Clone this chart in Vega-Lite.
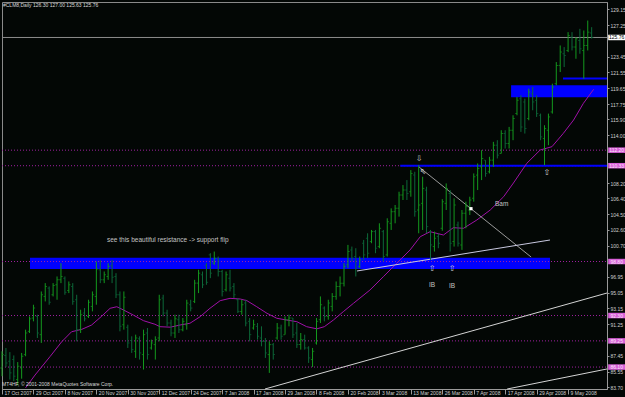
{
"$schema":"https://vega.github.io/schema/vega-lite/v6.json",
"width":605,"height":387,
"autosize":{"type":"none"},
"padding":{"left":2,"top":2,"right":18,"bottom":8},
"background":"#030705",
"config":{"view":{"stroke":"#8a8a8a","strokeWidth":1,"fill":"#030705"},"font":"Liberation Sans"},
"datasets":{
"bars":[
{"i":0,"o":86.0,"h":88.0,"l":85.0,"c":87.6},
{"i":1,"o":87.5,"h":88.4,"l":86.1,"c":86.6},
{"i":2,"o":86.8,"h":87.9,"l":84.6,"c":85.4},
{"i":3,"o":87.0,"h":87.5,"l":84.4,"c":85.0},
{"i":4,"o":84.6,"h":86.7,"l":83.9,"c":86.2},
{"i":5,"o":86.0,"h":87.8,"l":84.7,"c":87.4},
{"i":6,"o":87.6,"h":90.6,"l":87.4,"c":90.2},
{"i":7,"o":90.4,"h":92.2,"l":90.2,"c":91.9},
{"i":8,"o":92.0,"h":93.6,"l":91.6,"c":93.2},
{"i":9,"o":92.2,"h":92.4,"l":89.6,"c":90.2},
{"i":10,"o":90.0,"h":95.2,"l":89.0,"c":94.8},
{"i":11,"o":94.6,"h":96.2,"l":94.0,"c":95.8},
{"i":12,"o":95.6,"h":95.8,"l":93.6,"c":93.9},
{"i":13,"o":94.8,"h":96.2,"l":94.6,"c":95.9},
{"i":14,"o":96.0,"h":97.0,"l":94.2,"c":96.6},
{"i":15,"o":96.6,"h":98.6,"l":96.2,"c":97.0},
{"i":16,"o":96.8,"h":97.0,"l":94.8,"c":95.1},
{"i":17,"o":95.3,"h":96.4,"l":95.0,"c":96.0},
{"i":18,"o":95.8,"h":96.2,"l":93.6,"c":94.0},
{"i":19,"o":94.2,"h":94.8,"l":89.2,"c":90.6},
{"i":20,"o":90.6,"h":93.0,"l":90.2,"c":92.4},
{"i":21,"o":92.6,"h":93.2,"l":91.6,"c":91.9},
{"i":22,"o":92.2,"h":94.2,"l":92.0,"c":93.9},
{"i":23,"o":93.4,"h":95.2,"l":92.8,"c":94.8},
{"i":24,"o":94.6,"h":98.8,"l":93.6,"c":97.9},
{"i":25,"o":97.8,"h":99.0,"l":96.2,"c":96.6},
{"i":26,"o":96.6,"h":97.6,"l":96.2,"c":97.2},
{"i":27,"o":97.0,"h":98.6,"l":96.6,"c":98.2},
{"i":28,"o":98.3,"h":99.0,"l":96.2,"c":96.9},
{"i":29,"o":97.0,"h":97.4,"l":94.4,"c":94.8},
{"i":30,"o":94.8,"h":95.2,"l":90.4,"c":91.0},
{"i":31,"o":91.2,"h":95.2,"l":90.6,"c":94.5},
{"i":32,"o":90.9,"h":91.2,"l":88.4,"c":89.0},
{"i":33,"o":89.3,"h":89.8,"l":87.8,"c":88.2},
{"i":34,"o":88.0,"h":90.0,"l":87.2,"c":89.6},
{"i":35,"o":89.5,"h":89.8,"l":87.0,"c":87.8},
{"i":36,"o":87.6,"h":90.6,"l":85.8,"c":90.0},
{"i":37,"o":90.2,"h":90.8,"l":87.0,"c":87.6},
{"i":38,"o":88.4,"h":89.4,"l":88.2,"c":89.0},
{"i":39,"o":88.8,"h":89.8,"l":87.0,"c":89.4},
{"i":40,"o":89.6,"h":94.8,"l":89.2,"c":94.2},
{"i":41,"o":94.4,"h":94.8,"l":92.2,"c":92.6},
{"i":42,"o":92.6,"h":93.0,"l":91.0,"c":91.4},
{"i":43,"o":91.4,"h":91.8,"l":89.8,"c":90.2},
{"i":44,"o":90.2,"h":92.4,"l":89.6,"c":91.9},
{"i":45,"o":91.8,"h":92.4,"l":90.2,"c":90.6},
{"i":46,"o":90.6,"h":92.0,"l":90.4,"c":91.6},
{"i":47,"o":91.2,"h":94.2,"l":90.6,"c":93.8},
{"i":48,"o":93.6,"h":94.2,"l":92.8,"c":93.2},
{"i":49,"o":94.0,"h":96.6,"l":93.8,"c":96.2},
{"i":50,"o":96.2,"h":97.8,"l":95.0,"c":97.4},
{"i":51,"o":97.2,"h":97.6,"l":95.6,"c":96.0},
{"i":52,"o":98.3,"h":98.6,"l":96.0,"c":96.3},
{"i":53,"o":99.6,"h":99.8,"l":96.8,"c":97.4},
{"i":54,"o":98.6,"h":100.0,"l":98.4,"c":99.2},
{"i":55,"o":99.2,"h":99.4,"l":97.0,"c":97.6},
{"i":56,"o":97.6,"h":97.8,"l":94.6,"c":95.2},
{"i":57,"o":95.4,"h":97.6,"l":95.2,"c":97.2},
{"i":58,"o":96.8,"h":97.8,"l":95.2,"c":95.6},
{"i":59,"o":95.8,"h":96.2,"l":94.4,"c":94.8},
{"i":60,"o":94.2,"h":94.4,"l":92.6,"c":92.8},
{"i":61,"o":92.8,"h":94.2,"l":92.4,"c":93.6},
{"i":62,"o":93.8,"h":94.2,"l":91.0,"c":91.4},
{"i":63,"o":91.6,"h":92.0,"l":89.2,"c":90.0},
{"i":64,"o":90.8,"h":91.8,"l":90.6,"c":91.2},
{"i":65,"o":91.0,"h":91.4,"l":89.4,"c":89.8},
{"i":66,"o":89.6,"h":91.0,"l":88.6,"c":89.2},
{"i":67,"o":89.2,"h":89.6,"l":87.2,"c":87.8},
{"i":68,"o":87.6,"h":89.2,"l":85.4,"c":88.8},
{"i":69,"o":88.8,"h":89.0,"l":87.0,"c":87.6},
{"i":70,"o":89.6,"h":91.4,"l":89.4,"c":90.8},
{"i":71,"o":90.8,"h":91.2,"l":89.4,"c":89.8},
{"i":72,"o":90.0,"h":92.2,"l":90.0,"c":91.8},
{"i":73,"o":91.8,"h":92.4,"l":91.0,"c":92.0},
{"i":74,"o":92.0,"h":92.0,"l":89.6,"c":90.0},
{"i":75,"o":90.2,"h":91.4,"l":88.4,"c":88.8},
{"i":76,"o":88.8,"h":90.2,"l":88.2,"c":89.4},
{"i":77,"o":89.4,"h":90.0,"l":88.2,"c":88.4},
{"i":78,"o":88.4,"h":88.6,"l":86.6,"c":87.2},
{"i":79,"o":87.0,"h":88.4,"l":86.1,"c":88.0},
{"i":80,"o":89.0,"h":92.0,"l":88.8,"c":91.6},
{"i":81,"o":91.8,"h":94.6,"l":91.4,"c":93.6},
{"i":82,"o":93.2,"h":93.4,"l":91.6,"c":92.2},
{"i":83,"o":92.2,"h":94.2,"l":91.8,"c":93.8},
{"i":84,"o":93.4,"h":95.0,"l":92.8,"c":94.6},
{"i":85,"o":94.6,"h":96.4,"l":94.2,"c":95.8},
{"i":86,"o":95.8,"h":97.0,"l":94.6,"c":96.2},
{"i":87,"o":96.2,"h":98.6,"l":95.8,"c":98.2},
{"i":88,"o":98.4,"h":100.8,"l":98.0,"c":100.0},
{"i":89,"o":100.2,"h":100.6,"l":98.8,"c":99.2},
{"i":90,"o":99.4,"h":100.4,"l":97.0,"c":98.0},
{"i":91,"o":98.2,"h":99.4,"l":98.0,"c":99.0},
{"i":92,"o":101.0,"h":101.4,"l":99.0,"c":99.6},
{"i":93,"o":101.6,"h":102.2,"l":99.2,"c":99.8},
{"i":94,"o":101.2,"h":102.6,"l":101.0,"c":102.4},
{"i":95,"o":102.4,"h":102.6,"l":99.8,"c":100.4},
{"i":96,"o":100.6,"h":103.4,"l":100.4,"c":102.8},
{"i":97,"o":102.4,"h":102.6,"l":98.8,"c":99.4},
{"i":98,"o":99.6,"h":104.0,"l":99.4,"c":103.6},
{"i":99,"o":103.4,"h":105.2,"l":102.6,"c":104.8},
{"i":100,"o":104.8,"h":105.6,"l":103.4,"c":105.2},
{"i":101,"o":105.2,"h":107.2,"l":104.2,"c":106.8},
{"i":102,"o":106.8,"h":108.0,"l":106.2,"c":107.4},
{"i":103,"o":107.4,"h":108.6,"l":106.2,"c":107.0},
{"i":104,"o":107.2,"h":109.8,"l":106.6,"c":109.4},
{"i":105,"o":109.2,"h":109.6,"l":104.2,"c":104.8},
{"i":106,"o":105.0,"h":110.4,"l":102.2,"c":105.6},
{"i":107,"o":105.8,"h":109.0,"l":102.6,"c":107.6},
{"i":108,"o":107.4,"h":107.8,"l":102.2,"c":103.0},
{"i":109,"o":102.4,"h":102.6,"l":99.0,"c":100.8},
{"i":110,"o":100.6,"h":102.4,"l":100.0,"c":101.6},
{"i":111,"o":101.8,"h":102.2,"l":100.4,"c":101.0},
{"i":112,"o":102.8,"h":106.3,"l":102.5,"c":106.0},
{"i":113,"o":105.8,"h":108.2,"l":105.0,"c":107.6},
{"i":114,"o":107.0,"h":107.4,"l":100.0,"c":101.0},
{"i":115,"o":101.2,"h":106.4,"l":100.6,"c":105.6},
{"i":116,"o":103.2,"h":103.6,"l":100.6,"c":101.0},
{"i":117,"o":100.8,"h":105.0,"l":100.2,"c":104.6},
{"i":118,"o":104.6,"h":106.0,"l":102.8,"c":105.4},
{"i":119,"o":105.0,"h":106.6,"l":104.4,"c":106.2},
{"i":120,"o":106.4,"h":109.4,"l":106.0,"c":109.0},
{"i":121,"o":109.2,"h":110.6,"l":107.4,"c":110.0},
{"i":122,"o":110.2,"h":112.2,"l":108.6,"c":111.2},
{"i":123,"o":111.0,"h":111.0,"l":109.0,"c":109.4},
{"i":124,"o":109.6,"h":111.4,"l":109.4,"c":111.0},
{"i":125,"o":111.0,"h":113.2,"l":110.2,"c":112.8},
{"i":126,"o":112.8,"h":113.4,"l":111.2,"c":111.6},
{"i":127,"o":111.8,"h":114.6,"l":111.8,"c":114.2},
{"i":128,"o":114.2,"h":114.6,"l":112.4,"c":113.0},
{"i":129,"o":113.0,"h":115.0,"l":112.4,"c":114.6},
{"i":130,"o":114.6,"h":116.4,"l":113.4,"c":116.0},
{"i":131,"o":116.6,"h":118.6,"l":116.4,"c":118.2},
{"i":132,"o":118.4,"h":118.8,"l":114.4,"c":115.0},
{"i":133,"o":118.0,"h":118.4,"l":114.2,"c":114.8},
{"i":134,"o":116.0,"h":119.6,"l":115.8,"c":119.2},
{"i":135,"o":119.0,"h":119.8,"l":117.0,"c":118.0},
{"i":136,"o":118.2,"h":118.8,"l":116.2,"c":116.6},
{"i":137,"o":116.4,"h":116.6,"l":113.4,"c":113.8},
{"i":138,"o":113.6,"h":115.2,"l":110.4,"c":114.8},
{"i":139,"o":114.6,"h":116.6,"l":112.8,"c":116.2},
{"i":140,"o":116.8,"h":120.2,"l":116.6,"c":119.8},
{"i":141,"o":120.2,"h":122.8,"l":120.0,"c":122.4},
{"i":142,"o":122.4,"h":124.8,"l":121.6,"c":124.0},
{"i":143,"o":123.8,"h":124.6,"l":122.2,"c":123.6},
{"i":144,"o":124.2,"h":126.4,"l":124.0,"c":126.0},
{"i":145,"o":125.8,"h":126.4,"l":124.2,"c":124.6},
{"i":146,"o":124.6,"h":125.8,"l":123.2,"c":125.6},
{"i":147,"o":125.4,"h":126.8,"l":123.8,"c":124.4},
{"i":148,"o":124.2,"h":126.6,"l":120.8,"c":124.8},
{"i":149,"o":124.8,"h":127.8,"l":124.2,"c":126.4},
{"i":150,"o":126.3,"h":127.0,"l":125.63,"c":125.76}
],
"ma":[
{"i":6,"p":83.6},{"i":8.4,"p":85.14},{"i":12.2,"p":87.35},{"i":15.2,"p":89.15},{"i":17.7,"p":90.35},{"i":20.3,"p":90.64},{"i":22.8,"p":91.16},{"i":25.4,"p":92.24},{"i":27.5,"p":93.17},{"i":29.2,"p":93.36},{"i":30.9,"p":92.97},{"i":33.4,"p":92.36},{"i":36,"p":91.68},{"i":38.9,"p":91.25},{"i":40.2,"p":90.96},{"i":42.8,"p":90.9},{"i":45.3,"p":91.16},{"i":47.8,"p":91.37},{"i":50.4,"p":92.16},{"i":52.9,"p":93.17},{"i":55.5,"p":94.09},{"i":58,"p":94.37},{"i":60.6,"p":94.29},{"i":62.3,"p":94.09},{"i":64.8,"p":93.36},{"i":67.4,"p":92.57},{"i":69.9,"p":91.97},{"i":72.4,"p":91.76},{"i":75,"p":91.56},{"i":77.5,"p":90.96},{"i":80.1,"p":90.7},{"i":82,"p":90.96},{"i":84.3,"p":91.76},{"i":86.8,"p":92.76},{"i":89.4,"p":93.77},{"i":93.6,"p":95.37},{"i":97,"p":96.97},{"i":100.4,"p":98.59},{"i":103.8,"p":100.19},{"i":106.4,"p":101.79},{"i":108.9,"p":102.39},{"i":112.3,"p":101.99},{"i":114.8,"p":102.87},{"i":117.4,"p":102.8},{"i":120.8,"p":103.8},{"i":124.2,"p":105.0},{"i":127.6,"p":106.6},{"i":130.1,"p":108.25},{"i":133.5,"p":110.62},{"i":136.9,"p":112.22},{"i":139.9,"p":112.62},{"i":142.8,"p":114.23},{"i":145.4,"p":115.83},{"i":147.9,"p":117.84},{"i":150.5,"p":119.52}
],
"dots":[{"i":0,"i2":153.9,"p":112.20},{"i":0,"i2":153.9,"p":110.33},{"i":0,"i2":153.9,"p":98.80},{"i":0,"i2":153.9,"p":92.30},{"i":0,"i2":153.9,"p":89.25},{"i":0,"i2":153.9,"p":86.10}],
"last":[{"i":0,"i2":153.9,"p":125.76}],
"segs":[{"i":101.3,"i2":153.9,"p":110.33},{"i":142.7,"i2":153.9,"p":120.82}],
"zones":[{"i":7.12,"i2":139.4,"p":97.90,"p2":99.26},{"i":129.5,"i2":153.9,"p":118.56,"p2":120.01}],
"lines":[{"id":"t1","i":106.1,"p":110.17},{"id":"t1","i":134.6,"p":99.34},{"id":"t2","i":90.3,"p":97.66},{"id":"t2","i":139.4,"p":101.39},{"id":"t3","i":66.9,"p":83.46},{"id":"t3","i":153.9,"p":95.01},{"id":"t4","i":128.5,"p":83.46},{"id":"t4","i":153.9,"p":85.87}],
"arrows":[{"i":106.1,"p":111.12,"s":"⇩"},{"i":109.4,"p":97.96,"s":"⇧"},{"i":114.5,"p":97.96,"s":"⇧"},{"i":138.6,"p":109.49,"s":"⇧"},{"i":107.1,"p":109.57,"s":"⇖"}],
"notes":[{"i":26.7,"p":101.39,"t":"see this beautiful resistance -> support flip"},{"i":125.4,"p":105.72,"t":"Bam"},{"i":108.6,"p":95.97,"t":"IB"},{"i":113.7,"p":95.89,"t":"IB"}],
"heads":[{"i":0.25,"p":129.67,"t":"#CLM8,Daily  126.30 127.00 125.63 125.76"},{"i":0,"p":84.06,"t":"MT4HF, © 2001-2008 MetaQuotes Software Corp."}],
"mark":[{"i":119.3,"p":105.16}],
"curbox":[{"i":156.36,"p":125.76,"t":"125.76"}],
"pinkbox":[{"i":156.36,"p":112.20,"t":"112.20"},{"i":156.36,"p":110.33,"t":"110.33"},{"i":156.36,"p":98.80,"t":"98.80"},{"i":156.36,"p":92.30,"t":"92.30"},{"i":156.36,"p":89.25,"t":"89.25"},{"i":156.36,"p":86.10,"t":"86.10"}]
},
"encoding":{
 "x":{"field":"i","type":"quantitative","scale":{"domain":[0,153.9],"nice":false,"zero":false},
   "axis":{"values":[0,8,16,24,32,40,48,56,64,72,80,88,96,104,112,120,128,136,144],
   "labelExpr":"['17 Oct 2007','29 Oct 2007','8 Nov 2007','20 Nov 2007','30 Nov 2007','12 Dec 2007','24 Dec 2007','7 Jan 2008','17 Jan 2008','29 Jan 2008','8 Feb 2008','20 Feb 2008','3 Mar 2008','13 Mar 2008','26 Mar 2008','7 Apr 2008','17 Apr 2008','29 Apr 2008','9 May 2008'][round(datum.value/8)]",
   "title":null,"grid":false,"domainColor":"#9a9a9a","tickColor":"#9a9a9a","tickSize":5,"labelColor":"#d0d0d0","labelFontSize":5,"labelFont":"Liberation Sans","labelAlign":"left","labelBaseline":"middle","labelPadding":-2,"labelOffset":2,"labelOverlap":false,"labelFlush":false,"labelBound":false}},
 "y":{"field":"p","type":"quantitative","scale":{"domain":[83.46,130.03],"nice":false,"zero":false},
   "axis":{"orient":"right","values":[129.15,127.25,123.45,121.55,119.65,117.75,115.90,114.00,108.20,106.40,104.50,102.60,100.70,96.95,95.05,93.15,91.25,87.45,85.55,83.70],"format":".2f",
   "title":null,"grid":false,"domainColor":"#9a9a9a","tickColor":"#9a9a9a","tickSize":2,"labelColor":"#d0d0d0","labelFontSize":5,"labelFont":"Liberation Sans","labelPadding":1,"labelAlign":"left","labelBaseline":"middle","labelOverlap":false,"labelFlush":false,"labelBound":false}}
},
"layer":[
{"data":{"name":"zones"},"mark":{"type":"rect","color":"#0000ff"},
 "encoding":{"x2":{"field":"i2"},"y2":{"field":"p2"}}},
{"data":{"name":"dots"},"mark":{"type":"rule","color":"#a020a0","strokeDash":[1,2],"strokeWidth":1},
 "encoding":{"x2":{"field":"i2"}}},
{"data":{"name":"last"},"mark":{"type":"rule","color":"#8c8c8c","strokeWidth":1},
 "encoding":{"x2":{"field":"i2"}}},
{"data":{"name":"segs"},"mark":{"type":"rule","color":"#0000ff","strokeWidth":2},
 "encoding":{"x2":{"field":"i2"}}},
{"data":{"name":"ma"},"mark":{"type":"line","color":"#a010a8","strokeWidth":1},"encoding":{}},
{"data":{"name":"lines"},"mark":{"type":"line","strokeWidth":1},
 "encoding":{"detail":{"field":"id"},
 "color":{"field":"id","type":"nominal","scale":{"domain":["t1","t2","t3","t4"],"range":["#9a9a9a","#c8c8e0","#d4d4d4","#d4d4d4"]},"legend":null}}},
{"data":{"name":"bars"},"transform":[{"fold":["l"],"as":["k","p"]}],"mark":{"type":"rule","strokeWidth":1},
 "encoding":{"y2":{"field":"h"},
 "color":{"condition":{"test":"datum.c < datum.o","value":"#0d6a3a"},"value":"#149a1e"}}},
{"data":{"name":"bars"},"transform":[{"fold":["o"],"as":["k","p"]}],"mark":{"type":"tick","orient":"horizontal","size":1.6,"thickness":1,"xOffset":-0.9},
 "encoding":{"color":{"condition":{"test":"datum.c < datum.o","value":"#0d6a3a"},"value":"#149a1e"}}},
{"data":{"name":"bars"},"transform":[{"fold":["c"],"as":["k","p"]}],"mark":{"type":"tick","orient":"horizontal","size":1.6,"thickness":1,"xOffset":0.9},
 "encoding":{"color":{"condition":{"test":"datum.c < datum.o","value":"#0d6a3a"},"value":"#149a1e"}}},
{"data":{"name":"arrows"},"mark":{"type":"text","font":"DejaVu Sans","fontSize":8,"color":"#d0d0d0","align":"center","baseline":"middle"},
 "encoding":{"text":{"field":"s"}}},
{"data":{"name":"notes"},"mark":{"type":"text","font":"Liberation Sans","fontSize":6.5,"color":"#c4c4c4","align":"left","baseline":"middle"},
 "encoding":{"text":{"field":"t"}}},
{"data":{"name":"heads"},"mark":{"type":"text","font":"Liberation Sans","fontSize":5,"color":"#d8d8d8","align":"left","baseline":"middle"},
 "encoding":{"text":{"field":"t"}}},
{"data":{"name":"mark"},"mark":{"type":"point","shape":"square","filled":true,"size":10,"color":"#ffffff","opacity":1},"encoding":{}},
{"data":{"name":"curbox"},"mark":{"type":"tick","orient":"horizontal","size":17,"thickness":5.5,"color":"#ffffff","opacity":1},"encoding":{}},
{"data":{"name":"curbox"},"mark":{"type":"text","font":"Liberation Sans","fontSize":5,"color":"#000000","align":"center","baseline":"middle"},
 "encoding":{"text":{"field":"t"}}},
{"data":{"name":"pinkbox"},"mark":{"type":"tick","orient":"horizontal","size":17,"thickness":5.5,"color":"#d860d8","opacity":1},"encoding":{}},
{"data":{"name":"pinkbox"},"mark":{"type":"text","font":"Liberation Sans","fontSize":5,"color":"#fbe6fb","align":"center","baseline":"middle"},
 "encoding":{"text":{"field":"t"}}}
]
}
